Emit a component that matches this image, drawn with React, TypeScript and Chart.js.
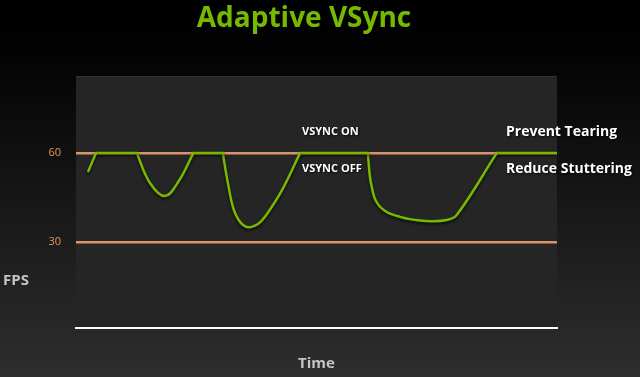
import React, { useEffect, useRef } from "react";
import { Chart, registerables } from "chart.js";

Chart.register(...registerables);

// Time axis runs 0..100, frame rate in FPS
const timePoints = [
  2.56, 4.16, 12.62, 15.38, 18.5, 21.31, 24.39,
  30.5, 31.66, 32.7, 34.1, 35.8, 37.84, 39.29, 42.83, 46.57,
  60.64, 61.48, 63.2, 67.36, 72.91, 77.07, 79.15, 87.46, 100,
];
const fpsValues = [
  53.9, 60, 60, 49.9, 45.5, 50.4, 60,
  60, 49.2, 41.4, 36.8, 35.0, 36.1, 38.5, 47.5, 60,
  60, 48.6, 41.9, 38.5, 37.1, 37.4, 39.1, 60, 60,
];
const fpsTicks = [30, 60];
const syncedFps = 60;

const title = "Adaptive VSync";
const yAxisLabel = "FPS";
const xAxisLabel = "Time";
const onLabel = "VSYNC ON";
const offLabel = "VSYNC OFF";
const sideLabels = ["Prevent Tearing", "Reduce Stuttering"];

const GREEN = "#76b900";
const ORANGE = "#d9946a";
const FONT = "'Open Sans', 'Noto Sans', sans-serif";

// Split the trace at every capped (60 FPS) sample so each dip is its own
// smooth curve while the corners where it leaves/rejoins the cap stay sharp.
function buildSegments() {
  const segs: { x: number; y: number }[][] = [];
  let cur: { x: number; y: number }[] = [];
  timePoints.forEach((t, i) => {
    const p = { x: t, y: fpsValues[i] };
    cur.push(p);
    if (fpsValues[i] === syncedFps && cur.length > 1) {
      segs.push(cur);
      cur = [p];
    }
  });
  if (cur.length > 1) segs.push(cur);
  return segs;
}

const backdrop = {
  id: "backdrop",
  beforeDraw(chart: Chart) {
    const { ctx, width, height, chartArea } = chart;
    ctx.save();
    const g = ctx.createLinearGradient(0, 0, 0, height);
    g.addColorStop(0, "#000000");
    g.addColorStop(0.12, "#020202");
    g.addColorStop(1, "#2e2e2e");
    ctx.fillStyle = g;
    ctx.fillRect(0, 0, width, height);
    ctx.fillStyle = "#252525";
    ctx.fillRect(
      chartArea.left,
      chartArea.top,
      chartArea.right - chartArea.left,
      chartArea.bottom - chartArea.top
    );
    ctx.fillStyle = "#333333";
    ctx.fillRect(chartArea.left, chartArea.top, chartArea.right - chartArea.left, 1);
    ctx.restore();
  },
};

const lineShadow = {
  id: "lineShadow",
  beforeDatasetsDraw(chart: Chart) {
    const ctx = chart.ctx;
    ctx.save();
    ctx.shadowColor = "rgba(0,0,0,0.7)";
    ctx.shadowBlur = 3;
    ctx.shadowOffsetY = 2;
  },
  afterDatasetsDraw(chart: Chart) {
    chart.ctx.restore();
  },
};

const annotations = {
  id: "annotations",
  afterDraw(chart: Chart) {
    const { ctx, chartArea } = chart;
    const yScale = chart.scales.y;
    const y60 = yScale.getPixelForValue(syncedFps);
    ctx.save();
    ctx.textBaseline = "middle";

    // heading
    ctx.fillStyle = GREEN;
    ctx.textAlign = "center";
    ctx.font = `bold 28px ${FONT}`;
    ctx.fillText(title, 304, 19);

    // axis names
    ctx.fillStyle = "#c4c4c4";
    ctx.font = `bold 15px ${FONT}`;
    ctx.fillText(xAxisLabel, (chartArea.left + chartArea.right) / 2, 364);
    ctx.textAlign = "left";
    ctx.fillText(yAxisLabel, 3, 281);

    // state labels around the 60 FPS line
    ctx.shadowColor = "rgba(0,0,0,0.8)";
    ctx.shadowBlur = 2;
    ctx.shadowOffsetX = 1;
    ctx.shadowOffsetY = 1;
    ctx.fillStyle = "#ffffff";
    ctx.font = `bold 11px ${FONT}`;
    ctx.fillText(onLabel, 302, y60 - 21);
    ctx.fillText(offLabel, 302, y60 + 16);

    ctx.font = `bold 14px ${FONT}`;
    ctx.fillText(sideLabels[0], 506, y60 - 21);
    ctx.fillText(sideLabels[1], 506, y60 + 16);
    ctx.restore();
  },
};

export default function App() {
  const canvasRef = useRef<HTMLCanvasElement | null>(null);

  useEffect(() => {
    if (!canvasRef.current) return;
    const chart = new Chart(canvasRef.current, {
      type: "line",
      data: {
        datasets: buildSegments().map((seg) => ({
          data: seg,
          borderColor: GREEN,
          borderWidth: 2.5,
          pointRadius: 0,
          fill: false,
          tension: 0.4,
          borderCapStyle: "round",
        })),
      },
      options: {
        responsive: false,
        animation: false,
        layout: { padding: { top: 76, right: 83, bottom: 0, left: 0 } },
        plugins: {
          legend: { display: false },
          tooltip: { enabled: false },
          title: { display: false },
        },
        scales: {
          x: {
            type: "linear",
            min: 0,
            max: 100,
            ticks: { display: false },
            grid: { display: false, drawTicks: false },
            border: { display: true, color: "#ffffff", width: 2 },
            afterFit: (scale: any) => {
              scale.height = 49;
            },
          },
          y: {
            min: 1,
            max: 86,
            afterBuildTicks: (scale: any) => {
              scale.ticks = fpsTicks.map((v) => ({ value: v }));
            },
            ticks: {
              color: "#e8935e",
              padding: 15,
              font: { family: FONT, size: 11 },
            },
            grid: {
              color: ORANGE,
              lineWidth: 2.5,
              drawTicks: false,
              drawOnChartArea: true,
            },
            border: { display: false },
            afterFit: (scale: any) => {
              scale.width = 76;
            },
          },
        },
      },
      plugins: [backdrop, lineShadow, annotations],
    });
    return () => chart.destroy();
  }, []);

  return (
    <div style={{ position: "fixed", left: 0, top: 0, width: 640, height: 377 }}>
      <canvas ref={canvasRef} width={640} height={377} />
    </div>
  );
}
